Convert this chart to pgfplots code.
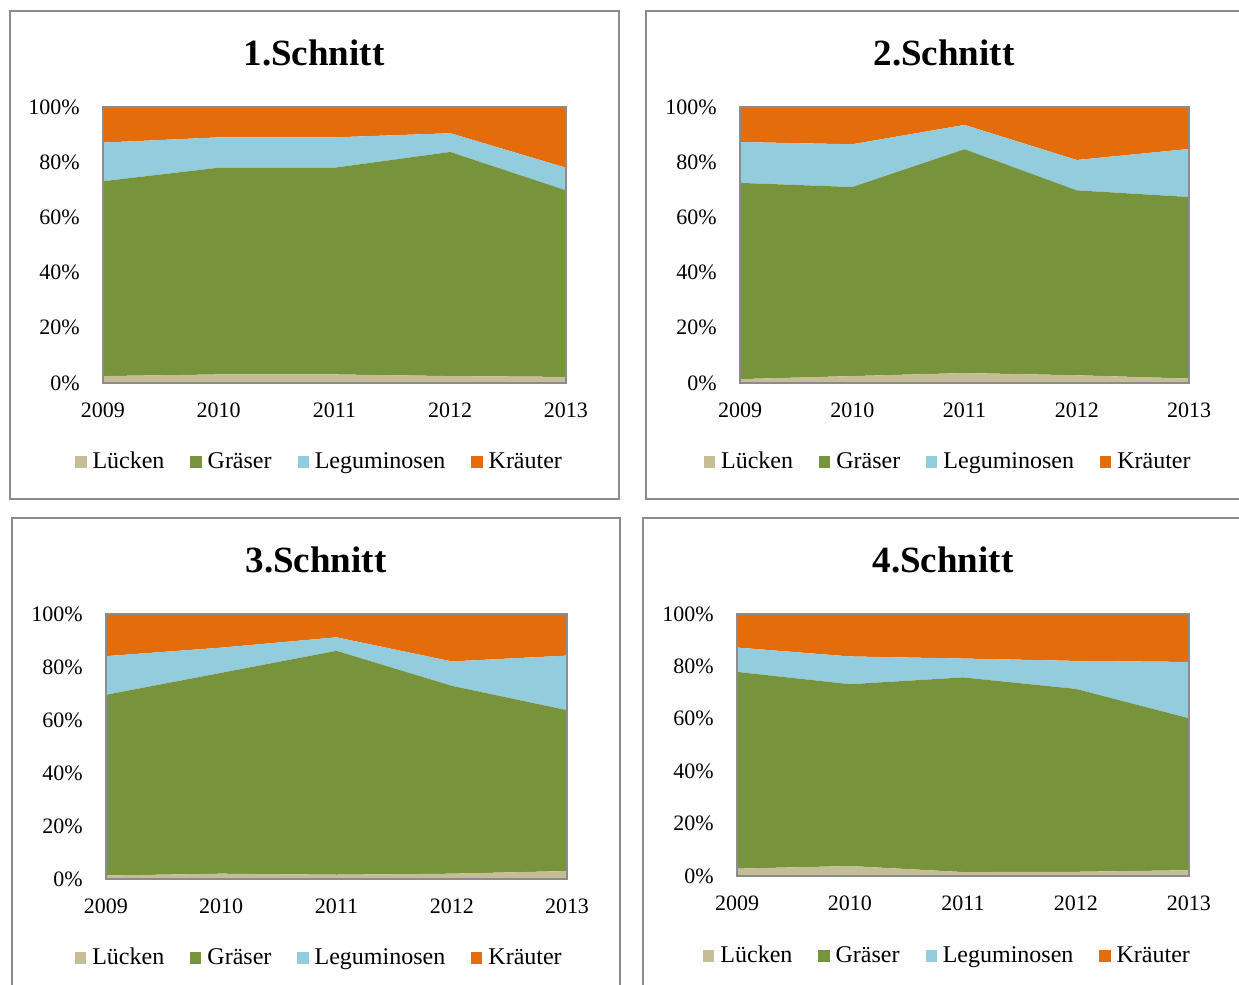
\documentclass[border=0pt]{standalone}
\usepackage{pgfplots}
\pgfplotsset{compat=1.18}
\usepackage{pgfplotstable}
\usepackage{fontspec}
\setmainfont{Liberation Serif}

\definecolor{luecken}{HTML}{C4BD97}
\definecolor{graeser}{HTML}{77933C}
\definecolor{legum}{HTML}{93CDDD}
\definecolor{kraeuter}{HTML}{E46C0A}
\definecolor{frame}{HTML}{8C8C8C}

\pgfplotstableread{
x L G Le K
0 2.5 70.6 14.0 12.9
1 3.1 74.9 11.0 11.0
2 3.1 74.9 11.0 11.0
3 2.5 81.2 6.8 9.5
4 2.2 67.6 8.2 22.0
}\tA
\pgfplotstableread{
x L G Le K
0 1.4 71.1 14.8 12.7
1 2.5 68.5 15.5 13.5
2 3.6 81.1 8.8 6.5
3 2.8 67.0 11.0 19.2
4 1.6 65.8 17.4 15.2
}\tB
\pgfplotstableread{
x L G Le K
0 1.3 68.2 14.6 15.9
1 2.0 75.8 9.5 12.7
2 1.6 84.5 5.1 8.8
3 2.0 70.9 9.2 17.9
4 3.0 60.7 20.6 15.7
}\tC
\pgfplotstableread{
x L G Le K
0 2.8 75.1 9.3 12.8
1 3.8 69.4 10.6 16.2
2 1.5 74.3 7.2 17.0
3 1.6 69.8 10.7 17.9
4 2.2 58.0 21.5 18.3
}\tD

\pgfplotsset{
  panel/.style={
    scale only axis,
    stack plots=y,
    area style,
    axis on top,
    xmin=0, xmax=4, ymin=0, ymax=100,
    xtick={0,1,2,3,4},
    xticklabels={2009,2010,2011,2012,2013},
    ytick={0,20,40,60,80,100},
    yticklabels={0\%,20\%,40\%,60\%,80\%,100\%},
    major tick length=0pt,
    axis line style={frame, line width=0.6pt},
    tick label style={font=\fontsize{11}{13}\selectfont},
    xticklabel style={inner sep=0pt, anchor=north, yshift=-9.5pt},
    yticklabel style={inner sep=0pt, anchor=east, xshift=-11.5pt},
    legend columns=4,
    legend image code/.code={\fill[##1] (0pt,-2.8pt) rectangle (5.6pt,2.8pt);},
    legend style={draw=none, fill=none, anchor=center,
      font=\fontsize{12}{14}\selectfont,
      /tikz/every even column/.append style={column sep=11.5pt},
      nodes={inner sep=1.5pt},
      /tikz/every odd column/.append style={column sep=1.5pt}},
  },
}

\newcommand{\panelplots}[1]{%
  \addplot[fill=luecken, draw=none] table[x=x, y=L] {#1} \closedcycle;
  \addplot[fill=graeser, draw=none] table[x=x, y=G] {#1} \closedcycle;
  \addplot[fill=legum, draw=none] table[x=x, y=Le] {#1} \closedcycle;
  \addplot[fill=kraeuter, draw=none] table[x=x, y=K] {#1} \closedcycle;
  \legend{Lücken, Gräser, Leguminosen, Kräuter}
}

\begin{document}
\begin{tikzpicture}
\useasboundingbox (0pt,0pt) rectangle (619.5pt,492.5pt);
\clip (0pt,0pt) rectangle (619.5pt,492.5pt);

\draw[frame, line width=0.8pt] (5pt,487pt) rectangle (309.5pt,243pt);
\draw[frame, line width=0.8pt] (323pt,487pt) rectangle (630pt,243pt);
\draw[frame, line width=0.8pt] (6pt,233.5pt) rectangle (310pt,-5pt);
\draw[frame, line width=0.8pt] (321.5pt,233.5pt) rectangle (630pt,-5pt);

\node[font=\fontsize{18.5}{22}\selectfont\bfseries] at (157pt,466pt) {1.Schnitt};
\node[font=\fontsize{18.5}{22}\selectfont\bfseries] at (472pt,466pt) {2.Schnitt};
\node[font=\fontsize{18.5}{22}\selectfont\bfseries] at (158pt,212.5pt) {3.Schnitt};
\node[font=\fontsize{18.5}{22}\selectfont\bfseries] at (471.5pt,212.5pt) {4.Schnitt};

\begin{axis}[panel, at={(51.5pt,301pt)}, anchor=south west,
  width=231.5pt, height=138pt,
  legend style={at={(0.469,-0.286)}}]
\panelplots{\tA}
\end{axis}

\begin{axis}[panel, at={(370pt,301pt)}, anchor=south west,
  width=224.5pt, height=138pt,
  legend style={at={(0.465,-0.286)}}]
\panelplots{\tB}
\end{axis}

\begin{axis}[panel, at={(53pt,53pt)}, anchor=south west,
  width=230.5pt, height=132.5pt,
  legend style={at={(0.464,-0.298)}}]
\panelplots{\tC}
\end{axis}

\begin{axis}[panel, at={(368.5pt,54.5pt)}, anchor=south west,
  width=226pt, height=131pt,
  legend style={at={(0.467,-0.305)}}]
\panelplots{\tD}
\end{axis}
\end{tikzpicture}
\end{document}
